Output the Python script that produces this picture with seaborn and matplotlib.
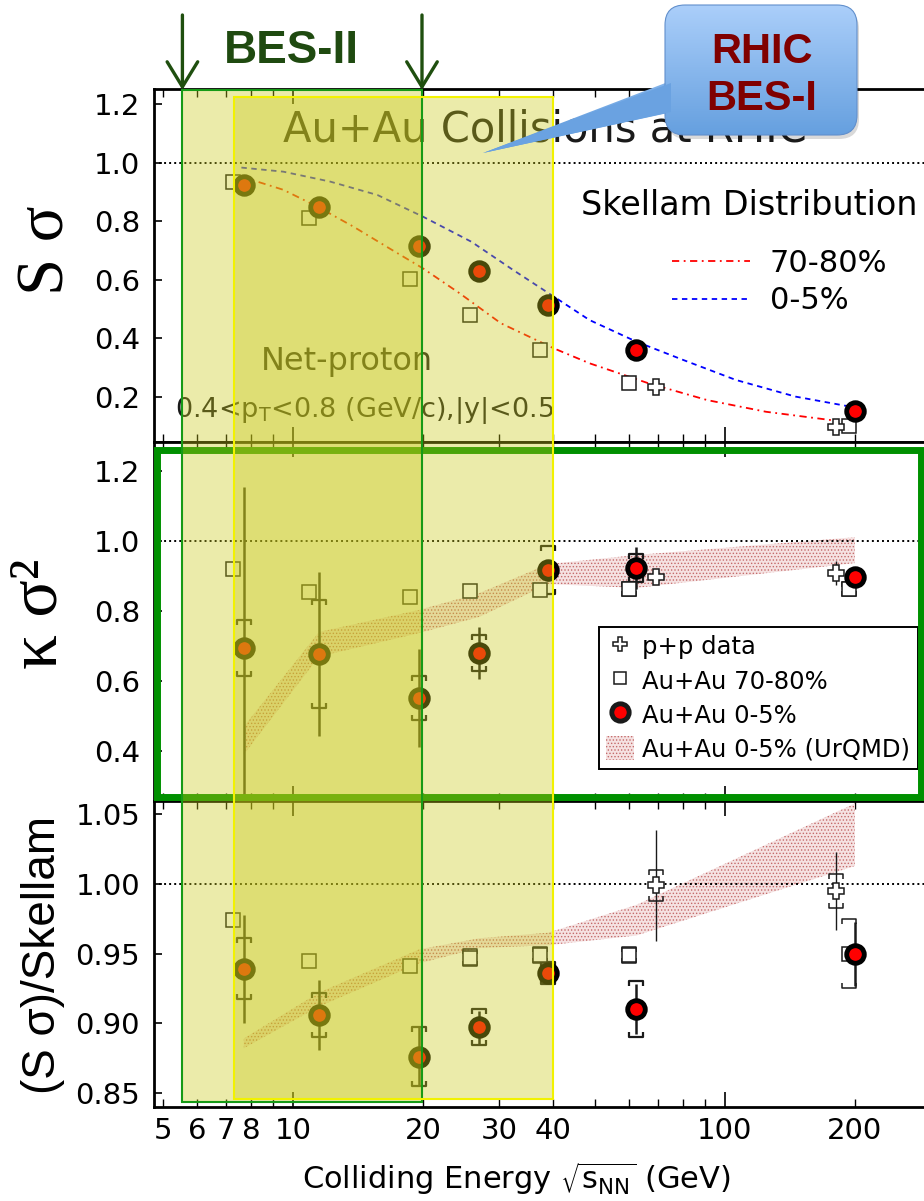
import numpy as np
import matplotlib
matplotlib.use("Agg")
import matplotlib.pyplot as plt
import seaborn as sns
from matplotlib import transforms
from matplotlib.patches import Rectangle, FancyBboxPatch, Polygon, Patch
from matplotlib.lines import Line2D
from matplotlib.path import Path
from matplotlib.ticker import LogLocator, FuncFormatter, FixedLocator

# ---------------------------------------------------------------- data
# collision energies (GeV); peripheral and p+p points are drawn slightly offset
energy_central = [7.7, 11.5, 19.6, 27, 39, 62.4, 200]
energy_peripheral = [7.26, 10.9, 18.7, 25.7, 37.3, 59.9, 193.6]
energy_pp = [69.2, 181]

# S*sigma
ssig_central = [0.926, 0.85, 0.714, 0.63, 0.515, 0.36, 0.15]
ssig_peripheral = [0.936, 0.81, 0.604, 0.48, 0.358, 0.248, 0.10]
ssig_pp = [0.234, 0.097]

# Skellam baselines for S*sigma
energy_skellam_central = [7.6, 9.5, 12.2, 15.7, 20, 25.9, 32.3, 40.2, 48.6,
                          62.4, 80.2, 106, 145.6, 199.5]
skellam_central = [0.984, 0.970, 0.936, 0.890, 0.816, 0.730, 0.634, 0.542,
                   0.462, 0.388, 0.325, 0.257, 0.200, 0.163]
energy_skellam_peripheral = [7.6, 9.5, 11.4, 13.8, 16.7, 20, 24.3, 30.3, 40.2,
                             48.6, 66.4, 91, 124.5, 181.5]
skellam_peripheral = [0.953, 0.908, 0.850, 0.782, 0.708, 0.639, 0.554, 0.451,
                      0.365, 0.314, 0.246, 0.188, 0.148, 0.117]

# kappa*sigma^2
ksig_central = [0.694, 0.677, 0.552, 0.68, 0.917, 0.923, 0.897]
ksig_central_stat = [0.46, 0.234, 0.14, 0.075, 0.03, 0.06, 0.02]
ksig_central_sys = [0.08, 0.154, 0.063, 0.052, 0.068, 0.04, 0.0]
ksig_peripheral = [0.92, 0.854, 0.84, 0.857, 0.86, 0.862, 0.862]
ksig_peripheral_sys = [0, 0, 0, 0, 0, 0.02, 0.02]
ksig_pp = [0.897, 0.908]
ksig_pp_stat = [0.0, 0.035]

# UrQMD 0-5% band
energy_urqmd = [7.7, 11.5, 19.6, 27, 39, 62.4, 200]
urqmd_ksig_lo = [0.39, 0.67, 0.737, 0.783, 0.877, 0.866, 0.937]
urqmd_ksig_hi = [0.47, 0.74, 0.803, 0.851, 0.934, 0.96, 1.011]
urqmd_ratio_lo = [0.882, 0.912, 0.943, 0.954, 0.956, 0.963, 1.013]
urqmd_ratio_hi = [0.889, 0.922, 0.953, 0.961, 0.965, 0.985, 1.058]

# (S*sigma)/Skellam
ratio_central = [0.939, 0.906, 0.876, 0.897, 0.936, 0.910, 0.950]
ratio_central_stat = [0.039, 0.025, 0.021, 0.012, 0.008, 0.018, 0.023]
ratio_central_sys = [0.022, 0.016, 0.021, 0.013, 0.008, 0.02, 0.0]
ratio_peripheral = [0.974, 0.945, 0.941, 0.947, 0.949, 0.949, 0.950]
ratio_peripheral_sys = [0, 0, 0, 0.006, 0.006, 0.006, 0.025]
ratio_pp = [0.999, 0.995]
ratio_pp_stat = [0.04, 0.028]
ratio_pp_sys = [0.011, 0.012]

# energy programmes highlighted across the panels (GeV)
bes2_range = [5.55, 19.9]
bes1_range = [7.3, 40.0]

xtick_labels = [5, 6, 7, 8, 10, 20, 30, 40, 100, 200]

# ---------------------------------------------------------------- style
sns.set_theme(style="ticks")
plt.rcParams["font.family"] = ["DejaVu Sans"]
plt.rcParams["mathtext.fontset"] = "dejavusans"
plt.rcParams["hatch.linewidth"] = 0.6
for key in ("text.color", "axes.labelcolor", "xtick.color", "ytick.color",
            "axes.edgecolor"):
    plt.rcParams[key] = "black"

W, H = 924, 1201
fig = plt.figure(figsize=(W / 100, H / 100), dpi=100)


def fig_box(left, top, right, bottom):
    return [left / W, 1 - bottom / H, (right - left) / W, (bottom - top) / H]


ax_s = fig.add_axes(fig_box(154, 89, 924, 442))
ax_k = fig.add_axes(fig_box(154, 442, 924, 801), sharex=ax_s)
ax_r = fig.add_axes(fig_box(154, 801, 924, 1107), sharex=ax_s)
axes = [ax_s, ax_k, ax_r]

ax_s.set_xscale("log")
ax_s.set_xlim(4.77, 289)
ax_s.set_ylim(0.0445, 1.253)
ax_k.set_ylim(0.257, 1.283)
ax_r.set_ylim(0.8397, 1.0597)

BAND_FACE = "#f5e2e2"
BAND_DOTS = "#c46a6a"

BR_TOP = Path([(-1, -0.75), (-1, 0), (1, 0), (1, -0.75)])
BR_BOT = Path([(-1, 0.75), (-1, 0), (1, 0), (1, 0.75)])


def brackets(ax, x, y, err, size, lw):
    x, y, err = map(np.asarray, (x, y, err))
    m = err > 0
    kw = dict(ls="none", ms=size, mfc="none", mec="k", mew=lw, zorder=3)
    ax.plot(x[m], y[m] + err[m], marker=BR_TOP, **kw)
    ax.plot(x[m], y[m] - err[m], marker=BR_BOT, **kw)


def stat_bars(ax, x, y, err, lw):
    x, y, err = map(np.asarray, (x, y, err))
    m = err > 0
    ax.errorbar(x[m], y[m], yerr=err[m], fmt="none", ecolor="k",
                elinewidth=lw, capsize=0, zorder=3)


def squares(ax, x, y):
    ax.plot(x, y, ls="none", marker="s", ms=10, mfc="white", mec="k",
            mew=1.1, zorder=4)


def crosses(ax, x, y):
    ax.plot(x, y, ls="none", marker="P", ms=11, mfc="white", mec="k",
            mew=1.1, zorder=6)


def circles(ax, x, y):
    sns.scatterplot(x=x, y=y, ax=ax, marker="o", s=160, color="red",
                    edgecolor="black", linewidth=3.5, zorder=5)


# ---------------------------------------------------------------- S sigma
RED_DASHDOT = (0, (4, 2.5, 1, 2.5))
BLUE_DASH = (0, (3, 2.5))
sns.lineplot(x=energy_skellam_peripheral, y=skellam_peripheral, ax=ax_s,
             color="red", linestyle=RED_DASHDOT, linewidth=1.3, zorder=2)
sns.lineplot(x=energy_skellam_central, y=skellam_central, ax=ax_s,
             color="blue", linestyle=BLUE_DASH, linewidth=1.3, zorder=2)
squares(ax_s, energy_peripheral, ssig_peripheral)
crosses(ax_s, energy_pp, ssig_pp)
circles(ax_s, energy_central, ssig_central)

ax_s.text(0.508, 0.85, "Au+Au Collisions at RHIC", transform=ax_s.transAxes,
          ha="center", va="baseline", fontsize=30, color="#1a1a1a", zorder=1)
ax_s.text(0.251, 0.204, "Net-proton", transform=ax_s.transAxes,
          ha="center", va="baseline", fontsize=23, color="#1a1a1a")
ax_s.text(0.273, 0.071, r"0.4<p$_{\rm T}$<0.8 (GeV/c),|y|<0.5",
          transform=ax_s.transAxes, ha="center", va="baseline", fontsize=19.5,
          color="#1a1a1a")
ax_s.text(0.992, 0.643, "Skellam Distribution", transform=ax_s.transAxes,
          ha="right", va="baseline", fontsize=24, color="black")
sk_handles = [Line2D([], [], color="red", ls=RED_DASHDOT, lw=1.3),
              Line2D([], [], color="blue", ls=BLUE_DASH, lw=1.3)]
leg_s = ax_s.legend(sk_handles, ["70-80%", "0-5%"], loc="upper left",
                    bbox_to_anchor=(0.673, 0.547), frameon=False, borderpad=0,
                    borderaxespad=0, handlelength=2.55, handletextpad=0.65,
                    labelspacing=0.28, fontsize=22)

# ---------------------------------------------------------------- kappa sigma^2
ax_k.fill_between(energy_urqmd, urqmd_ksig_lo, urqmd_ksig_hi,
                  facecolor=BAND_FACE, edgecolor=BAND_DOTS, hatch=".....",
                  linewidth=0, zorder=1)
squares(ax_k, energy_peripheral, ksig_peripheral)
brackets(ax_k, energy_peripheral, ksig_peripheral, ksig_peripheral_sys, 10, 1.1)
stat_bars(ax_k, energy_pp, ksig_pp, ksig_pp_stat, 1.0)
crosses(ax_k, energy_pp, ksig_pp)
stat_bars(ax_k, energy_central, ksig_central, ksig_central_stat, 1.8)
brackets(ax_k, energy_central, ksig_central, ksig_central_sys, 10, 1.6)
circles(ax_k, energy_central, ksig_central)

legend_handles = [
    Line2D([], [], ls="none", marker="P", ms=10, mfc="white", mec="k", mew=1.1),
    Line2D([], [], ls="none", marker="s", ms=9, mfc="white", mec="k", mew=1.1),
    Line2D([], [], ls="none", marker="o", ms=12.5, mfc="red", mec="k", mew=3.5),
    Patch(facecolor=BAND_FACE, edgecolor=BAND_DOTS, hatch=".....", linewidth=0),
]
leg_k = ax_k.legend(legend_handles,
                    ["p+p data", "Au+Au 70-80%", "Au+Au 0-5%",
                     "Au+Au 0-5% (UrQMD)"],
                    loc="upper left", bbox_to_anchor=(0.578, 0.485),
                    borderaxespad=0, borderpad=0.3, handlelength=1.15,
                    handleheight=1.15, handletextpad=0.33, labelspacing=0.36,
                    fontsize=17.5, fancybox=False, framealpha=1,
                    edgecolor="black")
leg_k.get_frame().set_linewidth(1.4)

# ---------------------------------------------------------------- ratio
ax_r.fill_between(energy_urqmd, urqmd_ratio_lo, urqmd_ratio_hi,
                  facecolor=BAND_FACE, edgecolor=BAND_DOTS, hatch=".....",
                  linewidth=0, zorder=1)
squares(ax_r, energy_peripheral, ratio_peripheral)
brackets(ax_r, energy_peripheral, ratio_peripheral, ratio_peripheral_sys, 10, 1.1)
stat_bars(ax_r, energy_pp, ratio_pp, ratio_pp_stat, 1.0)
brackets(ax_r, energy_pp, ratio_pp, ratio_pp_sys, 10, 1.1)
crosses(ax_r, energy_pp, ratio_pp)
stat_bars(ax_r, energy_central, ratio_central, ratio_central_stat, 1.8)
brackets(ax_r, energy_central, ratio_central, ratio_central_sys, 10, 1.6)
circles(ax_r, energy_central, ratio_central)

# ---------------------------------------------------------------- axes
for ax in axes:
    ax.axhline(1.0, color="black", ls=(0, (1, 1.6)), lw=1.4, zorder=1)
    for side in ("top", "bottom", "left"):
        ax.spines[side].set_linewidth(2.0)
        ax.spines[side].set_color("black")
    ax.spines["right"].set_visible(False)
    ax.tick_params(axis="x", which="both", direction="in", top=True,
                   bottom=True, colors="black", labelsize=21, pad=7)
    ax.tick_params(axis="x", which="major", length=11, width=1.2)
    ax.tick_params(axis="x", which="minor", length=6, width=1.0)
    ax.tick_params(axis="y", which="major", direction="in", left=True,
                   right=False, length=6, width=1.2, labelsize=21, pad=10,
                   colors="black")
    ax.set_xlabel("")
    ax.set_ylabel("")

ax_s.xaxis.set_major_locator(LogLocator(base=10, numticks=10))
ax_s.xaxis.set_minor_locator(LogLocator(base=10, subs=np.arange(2, 10), numticks=20))
ax_s.xaxis.set_major_formatter(
    FuncFormatter(lambda v, p: f"{v:g}" if round(v) in xtick_labels else ""))
ax_s.xaxis.set_minor_formatter(
    FuncFormatter(lambda v, p: f"{v:g}" if round(v) in xtick_labels else ""))
for ax in (ax_s, ax_k):
    ax.tick_params(axis="x", which="both", labelbottom=False)

ax_s.yaxis.set_major_locator(FixedLocator([0.2, 0.4, 0.6, 0.8, 1.0, 1.2]))
ax_s.yaxis.set_major_formatter(FuncFormatter(lambda v, p: f"{v:.1f}"))
ax_k.yaxis.set_major_locator(FixedLocator([0.4, 0.6, 0.8, 1.0, 1.2]))
ax_k.yaxis.set_major_formatter(FuncFormatter(lambda v, p: f"{v:.1f}"))
ax_r.yaxis.set_major_locator(FixedLocator([0.85, 0.90, 0.95, 1.00, 1.05]))
ax_r.yaxis.set_major_formatter(FuncFormatter(lambda v, p: f"{v:.2f}"))

ax_s.set_ylabel("S σ", family=["Liberation Serif", "DejaVu Serif"],
                fontsize=48, va="center")
ax_s.yaxis.set_label_coords(-0.139, 0.544)
ax_k.set_ylabel("κ σ²", family=["Liberation Serif", "DejaVu Serif"],
                fontsize=50, va="center")
ax_k.yaxis.set_label_coords(-0.149, 0.521)
ax_r.set_ylabel("(S σ)/Skellam", family=["Liberation Sans", "DejaVu Sans"],
                fontsize=33, va="center")
ax_r.yaxis.set_label_coords(-0.144, 0.497)
ax_r.set_xlabel(r"Colliding Energy $\sqrt{\mathrm{s}_{\mathrm{NN}}}$ (GeV)",
                fontsize=22)
ax_r.xaxis.set_label_coords(0.471, -0.173)

# ---------------------------------------------------------------- decorations
# thick green frame around the kurtosis panel
fig.add_artist(Rectangle((157 / W, 1 - 797 / H), (921 - 157) / W, (797 - 450) / H,
                         transform=fig.transFigure, fill=False,
                         edgecolor="#009000", linewidth=5, zorder=1.5))

# translucent bands for the beam-energy-scan programmes
span = transforms.blended_transform_factory(ax_r.transData, fig.transFigure)
shade = (0.79, 0.79, 0.10, 0.37)
for (e0, e1), top_px, bot_px, edge in (
        (bes2_range, 90, 1102, "#169a16"),
        (bes1_range, 97, 1099, "#f2f200")):
    fig.add_artist(Rectangle((e0, 1 - bot_px / H), e1 - e0, (bot_px - top_px) / H,
                             transform=span, facecolor=shade, edgecolor="none",
                             zorder=2))
    fig.add_artist(Rectangle((e0, 1 - bot_px / H), e1 - e0, (bot_px - top_px) / H,
                             transform=span, facecolor="none", edgecolor=edge,
                             linewidth=1.5, zorder=2.1))

# BES-II label with arrows marking its energy span
for e in bes2_range:
    ax_s.annotate("", xy=(e, 1 - 90 / H), xytext=(e, 1 - 15 / H),
                  xycoords=("data", "figure fraction"),
                  textcoords=("data", "figure fraction"),
                  annotation_clip=False,
                  arrowprops=dict(arrowstyle="->,head_length=0.9,head_width=0.55",
                                  color="#1f4f0f", lw=2.4, mutation_scale=20,
                                  shrinkA=0, shrinkB=0))
fig.text(291 / W, 1 - 63 / H, "BES-II", ha="center", va="baseline",
         fontsize=33, fontweight="bold", color="#1f4a10",
         family=["Liberation Sans", "DejaVu Sans"])

# RHIC BES-I callout
ax_c = fig.add_axes([0, 0, 1, 1], zorder=10)
ax_c.set_xlim(0, W)
ax_c.set_ylim(H, 0)
ax_c.axis("off")
shadow = FancyBboxPatch((667, 9), 192, 130, boxstyle="round,pad=0,rounding_size=20",
                        facecolor=(0, 0, 0, 0.15), edgecolor="none")
ax_c.add_patch(shadow)
box = FancyBboxPatch((665, 5), 192, 130, boxstyle="round,pad=0,rounding_size=20",
                     facecolor="none", edgecolor="none")
pointer = Polygon([(668, 82), (483, 153), (668, 113)], closed=True,
                  facecolor="none", edgecolor="none")
ax_c.add_patch(box)
ax_c.add_patch(pointer)
top_c = np.array([0.67, 0.81, 0.98])
bot_c = np.array([0.36, 0.60, 0.86])
t = np.linspace(0, 1, 200)[:, None, None]
grad = top_c * (1 - t) + bot_c * t
for clip in (box, pointer):
    im = ax_c.imshow(grad, extent=(480, 860, 153, 5), aspect="auto",
                     interpolation="bilinear", zorder=1)
    im.set_clip_path(clip)
ax_c.add_patch(FancyBboxPatch((665, 5), 192, 130,
                              boxstyle="round,pad=0,rounding_size=20",
                              facecolor="none", edgecolor=(0.38, 0.56, 0.80),
                              linewidth=0.8, zorder=2))
ax_c.add_patch(Polygon([(671, 83), (483, 153), (671, 112)], closed=True,
                       facecolor=tuple(0.5 * (top_c + bot_c) * 0.35 + bot_c * 0.65),
                       edgecolor="none", zorder=3))
ax_c.set_xlim(0, W)
ax_c.set_ylim(H, 0)
for label, base in (("RHIC", 63), ("BES-I", 110)):
    ax_c.text(762, base, label, ha="center", va="baseline", fontsize=30,
              fontweight="bold", color="#800000",
              family=["Liberation Sans", "DejaVu Sans"], zorder=4)

fig.savefig("out.png", dpi=100)
